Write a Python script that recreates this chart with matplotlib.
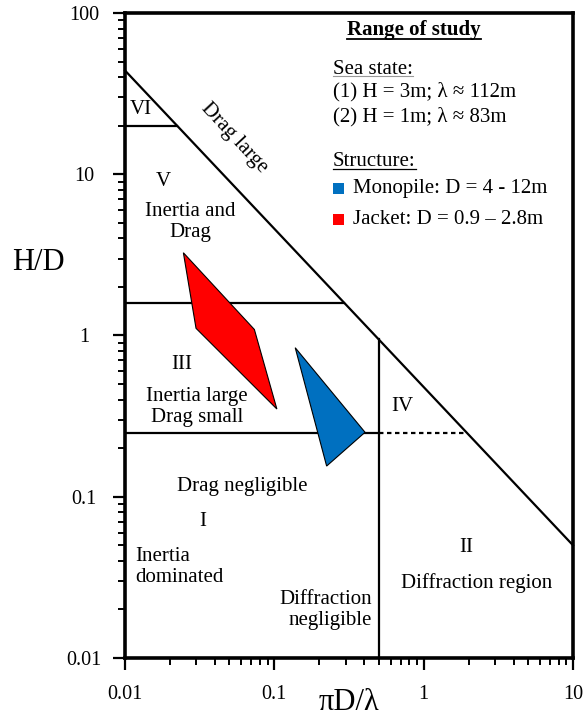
import numpy as np
import matplotlib
matplotlib.use("Agg")
import matplotlib.pyplot as plt
from matplotlib.patches import Polygon, Rectangle
from matplotlib.lines import Line2D
from matplotlib.ticker import LogLocator, NullFormatter, FixedLocator, FixedFormatter

plt.rcParams['font.family'] = ['Liberation Serif', 'DejaVu Serif']

# ---------------- data ----------------
x_ticks = [0.01, 0.1, 1, 10]
x_tick_labels = ['0.01', '0.1', '1', '10']
y_ticks = [0.01, 0.1, 1, 10, 100]
y_tick_labels = ['0.01', '0.1', '1', '10', '100']

drag_limit_x = [0.01, 10]        # breaking-wave limit ("Drag large")
drag_limit_y = [44.0, 0.05]
hd_region_VI = 20.0              # H/D boundary of region VI
hd_region_V = 1.6                # H/D boundary between V and III
hd_region_III = 0.25             # H/D boundary between III and I
diffraction_limit = 0.5          # πD/λ diffraction boundary

jacket_x = [0.0246, 0.0735, 0.104, 0.0299]
jacket_y = [3.26, 1.09, 0.35, 1.108]
monopile_x = [0.138, 0.405, 0.224]
monopile_y = [0.84, 0.251, 0.155]

# ---------------- figure ----------------
W, H = 586, 716
fig = plt.figure(figsize=(W / 100, H / 100), dpi=100)
AX_L, AX_R, AX_T, AX_B = 125, 573, 13, 658
ax = fig.add_axes([AX_L / W, 1 - AX_B / H, (AX_R - AX_L) / W, (AX_B - AX_T) / H])
ax.set_xscale('log')
ax.set_yscale('log')
ax.set_xlim(0.01, 10)
ax.set_ylim(0.01, 100)


def P(px, py):
    """pixel position of the reference -> axes fraction"""
    return ((px - AX_L) / (AX_R - AX_L), (AX_B - py) / (AX_B - AX_T))


def F(px, py):
    return (px / W, 1 - py / H)


lx = np.log10(drag_limit_x)
ly = np.log10(drag_limit_y)
slope = (ly[1] - ly[0]) / (lx[1] - lx[0])


def x_on_diag(y):
    return 10 ** (lx[0] + (np.log10(y) - ly[0]) / slope)


def y_on_diag(x):
    return 10 ** (ly[0] + (np.log10(x) - lx[0]) * slope)


lw = 1.6
ax.plot(drag_limit_x, drag_limit_y, color='black', lw=lw, clip_on=False)
ax.plot([0.01, x_on_diag(hd_region_VI)], [hd_region_VI] * 2, color='black', lw=lw)
ax.plot([0.01, x_on_diag(hd_region_V)], [hd_region_V] * 2, color='black', lw=lw)
ax.plot([0.01, diffraction_limit], [hd_region_III] * 2, color='black', lw=lw)
ax.plot([diffraction_limit, x_on_diag(hd_region_III)], [hd_region_III] * 2,
        color='black', lw=lw, dashes=(2.0, 1.6))
ax.plot([diffraction_limit] * 2, [0.01, y_on_diag(diffraction_limit)], color='black', lw=lw)

ax.add_patch(Polygon(np.column_stack([jacket_x, jacket_y]), closed=True,
                     fc='#FF0000', ec='black', lw=0.8, zorder=3))
ax.add_patch(Polygon(np.column_stack([monopile_x, monopile_y]), closed=True,
                     fc='#0070C0', ec='black', lw=0.8, zorder=3))

# ---------------- axes styling ----------------
for s in ax.spines.values():
    s.set_linewidth(2.6)
ax.xaxis.set_major_locator(FixedLocator(x_ticks))
ax.xaxis.set_major_formatter(FixedFormatter(x_tick_labels))
ax.yaxis.set_major_locator(FixedLocator(y_ticks))
ax.yaxis.set_major_formatter(FixedFormatter(y_tick_labels))
ax.xaxis.set_minor_locator(LogLocator(base=10, subs=np.arange(2, 10)))
ax.yaxis.set_minor_locator(LogLocator(base=10, subs=np.arange(2, 10)))
ax.xaxis.set_minor_formatter(NullFormatter())
ax.yaxis.set_minor_formatter(NullFormatter())
ax.tick_params(which='major', length=8.6, width=1.6, direction='out', labelsize=14.5)
ax.tick_params(which='minor', length=5.2, width=1.4, direction='out')
ax.tick_params(axis='x', which='major', pad=11)
ax.tick_params(axis='y', which='major', pad=21)
for t in ax.get_yticklabels():
    t.set_ha('center')

fs = 15
# region labels
def lab(s, px, py, ha='center', **kw):
    return ax.text(*P(px, py), s, transform=ax.transAxes, ha=ha, va='center',
                   fontsize=fs, multialignment=ha, **kw)

lab("VI", 141, 109)
ax.text(*P(234, 138), "Drag large", transform=ax.transAxes, ha='center', va='center',
        fontsize=fs, rotation=-47, rotation_mode='anchor')
lab("V", 163, 182)
lab("Inertia and\nDrag", 190, 222)
lab("III", 182, 365)
lab("Inertia large\nDrag small", 197, 407)
lab("IV", 402, 407)
lab("Drag negligible", 242, 487)
lab("I", 203, 522)
lab("Inertia\ndominated", 135, 567, ha='left')
lab("Diffraction\nnegligible", 372, 610, ha='right')
lab("II", 466, 547)
lab("Diffraction region", 477, 583)

# range of study box
t_title = ax.text(*P(414, 30), "Range of study", transform=ax.transAxes, ha='center',
                  va='center', fontsize=fs, fontweight='bold')
t_sea = lab("Sea state:", 333, 69, ha='left')
lab("(1) H = 3m; λ ≈ 112m", 333, 92, ha='left')
lab("(2) H = 1m; λ ≈ 83m", 333, 117, ha='left')
t_struct = lab("Structure:", 333, 162, ha='left')
lab("Monopile: D = 4 - 12m", 353, 188, ha='left')
lab("Jacket: D = 0.9 – 2.8m", 353, 220, ha='left')

sq = 11
x0, y0 = P(333, 194)
x1, y1 = P(333 + sq, 194 - sq)
ax.add_patch(Rectangle((x0, y0), x1 - x0, y1 - y0, transform=ax.transAxes,
                       fc='#0070C0', ec='none', clip_on=False))
x0, y0 = P(333, 225)
x1, y1 = P(333 + sq, 225 - sq)
ax.add_patch(Rectangle((x0, y0), x1 - x0, y1 - y0, transform=ax.transAxes,
                       fc='#FF0000', ec='none', clip_on=False))

# axis titles
fig.text(*F(38, 263), "H/D", ha='center', va='center', fontsize=22)
fig.text(*F(349, 703), "πD/λ", ha='center', va='center', fontsize=22)

# underlines
fig.canvas.draw()
r = fig.canvas.get_renderer()
for t, off, col, w in [(t_title, 1.5, 'black', 1.3), (t_sea, 2.5, '#999999', 0.8),
                       (t_struct, 2.5, 'black', 0.9)]:
    bb = t.get_window_extent(r)
    yy = bb.y0 + off
    fig.add_artist(Line2D([bb.x0 / W, bb.x1 / W], [yy / H, yy / H],
                          transform=fig.transFigure, color=col, lw=w))

fig.savefig('out.png', dpi=100)
